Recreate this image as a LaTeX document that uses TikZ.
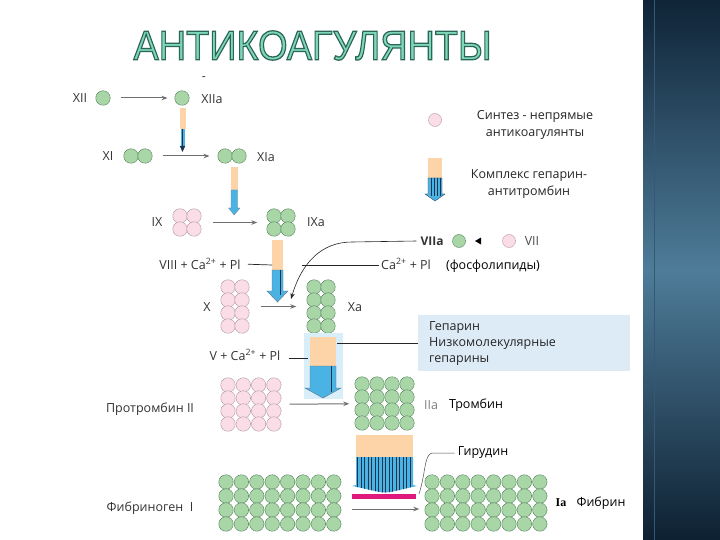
\documentclass[tikz,border=0pt]{standalone}
\usepackage{fontspec}
\setmainfont{Open Sans}
\newfontfamily\titlefont[FakeBold=3]{Liberation Sans}
\newfontfamily\serfont{Liberation Serif}
\usetikzlibrary{arrows.meta,fit}
\definecolor{gfill}{HTML}{A9D6A7}
\definecolor{gline}{HTML}{4E7E55}
\definecolor{pfill}{HTML}{FADDE6}
\definecolor{pline}{HTML}{B0949C}
\definecolor{peachc}{HTML}{FCD4A8}
\definecolor{skyb}{HTML}{4BB3E3}
\definecolor{dline}{HTML}{1B3550}
\definecolor{glowc}{HTML}{D8EEF9}
\definecolor{hepbg}{HTML}{DDEBF7}
\definecolor{txt}{HTML}{333333}
\definecolor{arrgray}{HTML}{707070}
\definecolor{magc}{HTML}{E0197C}
\definecolor{tfill}{HTML}{80D6B8}
\definecolor{ptop}{HTML}{0F2437}
\definecolor{pmid}{HTML}{4E7C99}
\tikzset{
  gc/.style={circle, minimum size=14.5pt, inner sep=0pt, fill=gfill, draw=gline, line width=0.5pt, dash pattern=on 1.2pt off 0.5pt},
  pc/.style={circle, minimum size=14.5pt, inner sep=0pt, fill=pfill, draw=pline, line width=0.5pt, dash pattern=on 1.2pt off 0.5pt},
  lbl/.style={font=\fontsize{12.5}{14}\selectfont, text=txt, inner sep=0pt},
  garr/.style={draw=arrgray, line width=1pt, -{Stealth[length=6pt,width=4.5pt]}},
  bline/.style={draw=black!85, line width=0.7pt},
  grp/.style={inner sep=0pt, draw=none},
}
\begin{document}
\begin{tikzpicture}[x=1pt,y=-1pt]
\useasboundingbox (0,0) rectangle (720,540);
\fill[white] (0,0) rectangle (720,540);
% right panel
\shade[top color=ptop, bottom color=ptop!90!black, middle color=pmid] (643,0) rectangle (720,540);
\draw[pmid!60!ptop, line width=0.8pt] (654,0) -- (654,540);
% title
\node[inner sep=0pt] (title) at (312.5,45.5) {\resizebox{358pt}{29pt}{\titlefont\fontsize{40}{44}\selectfont\color{tfill}\special{pdf:literal direct 0.16 0.40 0.34 RG}АНТИКОАГУЛЯНТЫ}};

% row XII
\node[lbl] (xii) at (80,98) {XII};
\node[gc] (c12) at (103,98) {};
\node[gc] (c12a) at (182,98) {};
\node[lbl] (xiia) at (212,99) {XIIa};
\node[lbl] (dash) at (204,79) {-};
\draw[garr, shorten <=10pt, shorten >=7pt] (c12) -- (c12a);

% row XI
\node[lbl] (xi) at (108,156) {XI};
\node[gc] (c11a) at (131,156) {};
\node[gc] (c11b) at (145,156) {};
\node[gc] (c11c) at (225,156) {};
\node[gc] (c11d) at (239,156) {};
\node[lbl] (xia) at (266,157) {XIa};
\draw[garr, shorten <=10pt, shorten >=8pt] (c11b) -- (c11c);

% row IX
\node[lbl] (ix) at (157,222) {IX};
\foreach \c/\x in {1/180,2/194} \foreach \r/\y in {1/216,2/229} \node[pc] (ix-\c-\r) at (\x,\y) {};
\foreach \c/\x in {1/274,2/288} \foreach \r/\y in {1/216,2/229} \node[gc] (ixa-\c-\r) at (\x,\y) {};
\node[grp, fit=(ix-1-1)(ix-2-2)] (ixg) {};
\node[grp, fit=(ixa-1-1)(ixa-2-2)] (ixag) {};
\node[lbl] (ixa) at (316,222) {IXa};
\draw[garr, shorten <=11pt, shorten >=9pt] (ixg) -- (ixag);

% row X
\node[lbl] (x) at (207,307) {X};
\foreach \c/\x in {1/228,2/242} \foreach \r/\y in {1/287,2/300,3/313,4/326} \node[pc] (x-\c-\r) at (\x,\y) {};
\foreach \c/\x in {1/314,2/328} \foreach \r/\y in {1/287,2/300,3/313,4/326} \node[gc] (xa-\c-\r) at (\x,\y) {};
\node[grp, fit=(x-1-1)(x-2-4)] (xg) {};
\node[grp, fit=(xa-1-1)(xa-2-4)] (xag) {};
\node[lbl] (xa) at (355,307) {Xa};
\draw[garr, shorten <=11pt, shorten >=10pt] (xg) -- (xag);

% prothrombin / thrombin
\node[lbl] (pro) at (150,409) {Протромбин II};
\foreach \c in {1,...,4} \foreach \r in {1,...,4} \node[pc] (pr-\c-\r) at ({228+15.3*(\c-1)},{385+13*(\r-1)}) {};
\foreach \c in {1,...,4} \foreach \r in {1,...,4} \node[gc] (th-\c-\r) at ({362+15*(\c-1)},{384+13*(\r-1)}) {};
\node[grp, fit=(pr-1-1)(pr-4-4)] (prg) {};
\node[grp, fit=(th-1-1)(th-4-4)] (thg) {};
\draw[garr, shorten <=8pt, shorten >=5pt] (prg) -- (thg);
\node[lbl, text=black!50] (iia) at (431,405) {IIa};
\node[lbl, text=black] (thr) at (476,405) {Тромбин};

% fibrinogen / fibrin
\node[lbl] (fbgt) at (150,508) {Фибриноген\ \ I};
\foreach \c in {1,...,8} \foreach \r in {1,...,4} \node[gc] (fg-\c-\r) at ({226+15.4*(\c-1)},{482+14*(\r-1)}) {};
\foreach \c in {1,...,8} \foreach \r in {1,...,4} \node[gc] (fn-\c-\r) at ({432+15.4*(\c-1)},{482+14*(\r-1)}) {};
\node[grp, fit=(fg-1-1)(fg-8-4)] (fbg) {};
\node[grp, fit=(fn-1-1)(fn-8-4)] (fbn) {};
\draw[garr, shorten <=10pt, shorten >=5pt] ([yshift=-6pt]fbg.east) -- ([yshift=-6pt]fbn.west);
\node[inner sep=0pt, font=\serfont\bfseries\fontsize{12}{14}\selectfont] (ia) at (561,503) {Ia};
\node[lbl, text=black] (fbr) at (601,503) {Фибрин};

% legend
\node[pc, minimum size=13pt] (legc) at (435,120) {};
\node[lbl, text=black!85, align=center, font=\fontsize{12.5}{17}\selectfont] (leg1) at (535,124.5) {Синтез - непрямые\\антикоагулянты};
\node[lbl, text=black!85, align=center, font=\fontsize{12.5}{17}\selectfont] (leg2) at (529,184.5) {Комплекс гепарин-\\антитромбин};
\fill[peachc] (428,158) rectangle (442,178);
\filldraw[fill=skyb, draw=dline, line width=0.3pt] (428,178) -- (442,178) -- (442,194) -- (445,194) -- (435,201) -- (425,194) -- (428,194) -- cycle;
\foreach \xx in {431,434,437,440} \draw[dline, line width=0.5pt] (\xx,178) -- (\xx,196);

% complex arrow XIIa -> XI
\fill[peachc] (179.5,108) rectangle (185.5,129);
\fill[skyb] (181,129) rectangle (184.5,147);
\draw[dline, line width=0.8pt] (182.5,129) -- (182.5,148);
\fill[dline] (179.8,146) -- (185.2,146) -- (182.5,152) -- cycle;

% complex arrow XIa -> IX
\fill[peachc] (231,167) rectangle (237.5,190);
\filldraw[fill=skyb, draw=dline!60, line width=0.3pt] (231,190) -- (237.5,190) -- (237.5,208) -- (240,208) -- (234.2,215) -- (228.5,208) -- (231,208) -- cycle;

% complex arrow IXa -> X
\fill[peachc] (272,240) rectangle (283,270);
\filldraw[fill=skyb, draw=dline!70, line width=0.4pt] (272,270) -- (283,270) -- (283,291) -- (288,291) -- (277.5,302) -- (267,291) -- (272,291) -- cycle;
\draw[dline, line width=0.6pt] (280.5,270) -- (280.5,295);

% VIII line
\node[lbl] (viii) at (200,264) {VIII + Ca\textsuperscript{2+} + Pl};
\node[lbl] (ca) at (406,264) {Ca\textsuperscript{2+} + Pl};
\node[lbl, text=black] (fosf) at (493,266) {(фосфолипиды)};
\coordinate (v8l) at (272,265);
\coordinate (v8r) at (302,265);
\draw[bline, shorten <=7pt] (viii.east) -- (v8l);
\draw[bline, shorten >=2pt] (v8r) -- (ca.west |- v8r);

% VIIa / VII
\node[lbl, font=\bfseries\fontsize{12}{14}\selectfont] (viia) at (432,241) {VIIa};
\node[gc, minimum size=13pt] (viiac) at (459,241) {};
\node[pc, minimum size=13pt] (viic) at (509,241) {};
\node[lbl, text=black!70] (vii) at (532,241) {VII};
\fill[black] (481,237.5) -- (481,244.5) -- (475,241) -- cycle;
\coordinate (ctip) at (291,299);
\draw[bline, line width=0.6pt, -{Stealth[length=6pt,width=4.5pt]}] ([xshift=-4pt]viia.west) -- (352,242) .. controls (322,242) and (302,262) .. (ctip);

% complex arrow Xa -> IIa
\fill[glowc] (304,333) rectangle (343,399);
\fill[peachc] (310,337) rectangle (336,366);
\filldraw[fill=skyb, draw=dline!70, line width=0.4pt] (310,366) -- (336,366) -- (336,388) -- (341,388) -- (323,398) -- (305,388) -- (310,388) -- cycle;
\draw[dline, line width=0.7pt] (331,366) -- (331,392);
\node[lbl] (v) at (245,355) {V + Ca\textsuperscript{2+} + Pl};
\coordinate (vr) at (308,358);
\draw[bline, shorten <=8pt] (v.east |- vr) -- (vr);

% heparin box
\node[fill=hepbg, anchor=north west, minimum width=212pt, minimum height=56pt, text width=190pt, inner xsep=11pt, inner ysep=4pt, align=left, font=\fontsize{12.5}{16}\selectfont, text=black!85] (hep) at (418,315) {Гепарин\\Низкомолекулярные\\гепарины};
\coordinate (hl) at (337,343);
\draw[bline] (hl) -- (hep.west |- hl);

% hirudin
\fill[peachc] (356,435) rectangle (413,457);
\begin{scope}
\clip (356,457) -- (413,457) -- (413,485) -- (417,486) .. controls (402,489) and (392,492.5) .. (385,492.5) .. controls (378,492.5) and (368,489) .. (352,486) -- (356,485) -- cycle;
\fill[skyb] (350,455) rectangle (420,495);
\foreach \xx in {357.5,361,...,413} \draw[dline, line width=0.6pt] (\xx,457) -- (\xx,495);
\end{scope}
\fill[magc] (352,494) rectangle (416,499);
\node[lbl, text=black] (gir) at (483,453) {Гирудин};
\coordinate (girend) at (419,494);
\draw[draw=black!70, line width=0.5pt, shorten <=3pt] (gir.west) -- (432,453) .. controls (424,455) and (426,472) .. (girend);
\end{tikzpicture}
\end{document}
